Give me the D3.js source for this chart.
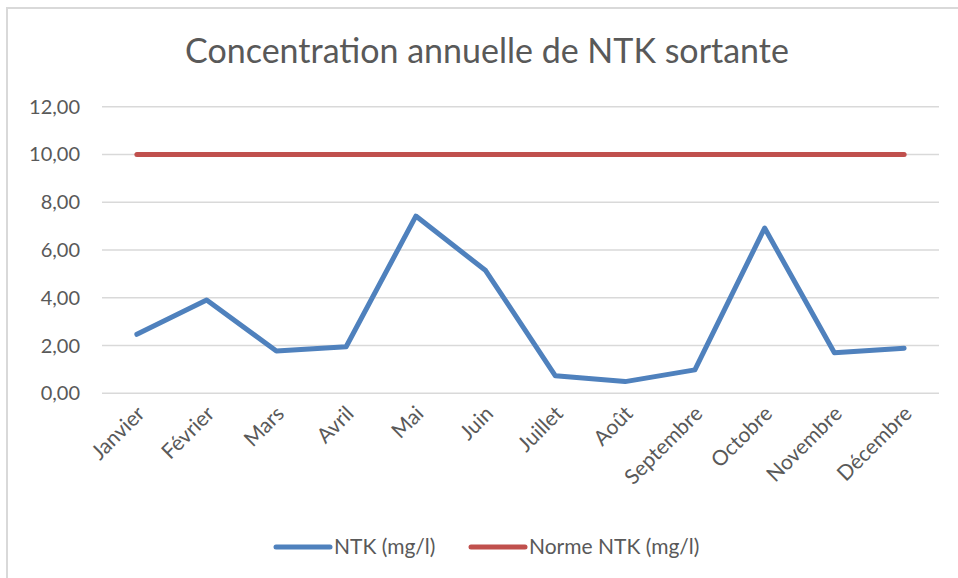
<!DOCTYPE html>
<html lang="fr">
    <head>
        <meta charset="utf-8">
        <title>NTK sortante</title>
        <script src="https://d3js.org/d3.v7.min.js"></script>
        <style type="text/css">
          body { margin: 0; background: #fff; }
          svg { width: 958px; height: 578px; display: block; }
          text { font-family: Lato, "Open Sans", sans-serif; fill: #595959; }
          .title { font-size: 34px; }
          .tick-lbl { font-size: 20px; }
          .x-lbl { font-size: 21px; }
          .legend { font-size: 21px; }
        </style>
    </head>
    <body>
        <svg></svg>
        <script type="text/javascript">

        // data
        const months = ["Janvier", "Février", "Mars", "Avril", "Mai", "Juin",
                        "Juillet", "Août", "Septembre", "Octobre", "Novembre", "Décembre"];
        const ntk = [2.47, 3.91, 1.77, 1.95, 7.42, 5.14, 0.73, 0.49, 0.98, 6.92, 1.70, 1.89];
        const norme = [10, 10, 10, 10, 10, 10, 10, 10, 10, 10, 10, 10];
        const yTicks = [0, 2, 4, 6, 8, 10, 12];

        const svg = d3.select("svg");

        // outer chart border
        svg.append("rect")
           .attr("x", 7).attr("y", 8)
           .attr("width", 1000).attr("height", 600)
           .attr("fill", "#fff")
           .attr("stroke", "#d9d9d9")
           .attr("stroke-width", 2);

        const x = d3.scaleBand().domain(months).range([102, 939]);
        const y = d3.scaleLinear().domain([0, 12]).range([393.3, 106.7]);

        // gridlines
        svg.append("g").selectAll("line")
           .data(yTicks)
           .enter().append("line")
           .attr("x1", 102).attr("x2", 939)
           .attr("y1", d => y(d)).attr("y2", d => y(d))
           .attr("stroke", "#d9d9d9")
           .attr("stroke-width", 1.5);

        // y axis labels
        const fmt = d => d.toFixed(2).replace(".", ",");
        svg.append("g").selectAll("text")
           .data(yTicks)
           .enter().append("text")
           .attr("class", "tick-lbl")
           .attr("x", 80)
           .attr("y", d => y(d))
           .attr("dy", "0.35em")
           .attr("text-anchor", "end")
           .text(fmt);

        // x axis labels, rotated
        svg.append("g").selectAll("text")
           .data(months)
           .enter().append("text")
           .attr("class", "x-lbl")
           .attr("text-anchor", "end")
           .attr("transform", d => "translate(" + (x(d) + x.bandwidth() / 2 + 9) + ",415) rotate(-45)")
           .text(d => d);

        const cx = (d, i) => x(months[i]) + x.bandwidth() / 2;
        const line = d3.line().x(cx).y(d => y(d));

        svg.append("path")
           .datum(norme)
           .attr("d", line)
           .attr("fill", "none")
           .attr("stroke", "#c0504d")
           .attr("stroke-width", 5)
           .attr("stroke-linecap", "round");

        svg.append("path")
           .datum(ntk)
           .attr("d", line)
           .attr("fill", "none")
           .attr("stroke", "#4f81bd")
           .attr("stroke-width", 5)
           .attr("stroke-linecap", "round")
           .attr("stroke-linejoin", "round");

        // title
        svg.append("text")
           .attr("class", "title")
           .attr("x", 487).attr("y", 63)
           .attr("text-anchor", "middle")
           .text("Concentration annuelle de NTK sortante");

        // legend
        const legend = [
            { name: "NTK (mg/l)", color: "#4f81bd", x0: 276 },
            { name: "Norme NTK (mg/l)", color: "#c0504d", x0: 471 }
        ];
        const lg = svg.append("g").selectAll("g")
           .data(legend)
           .enter().append("g")
           .attr("transform", d => "translate(" + d.x0 + ",547)");
        lg.append("line")
          .attr("x1", 0).attr("x2", 54)
          .attr("stroke", d => d.color)
          .attr("stroke-width", 5)
          .attr("stroke-linecap", "round");
        lg.append("text")
          .attr("class", "legend")
          .attr("x", 58)
          .attr("dy", "0.35em")
          .text(d => d.name);

        </script>
    </body>
</html>
